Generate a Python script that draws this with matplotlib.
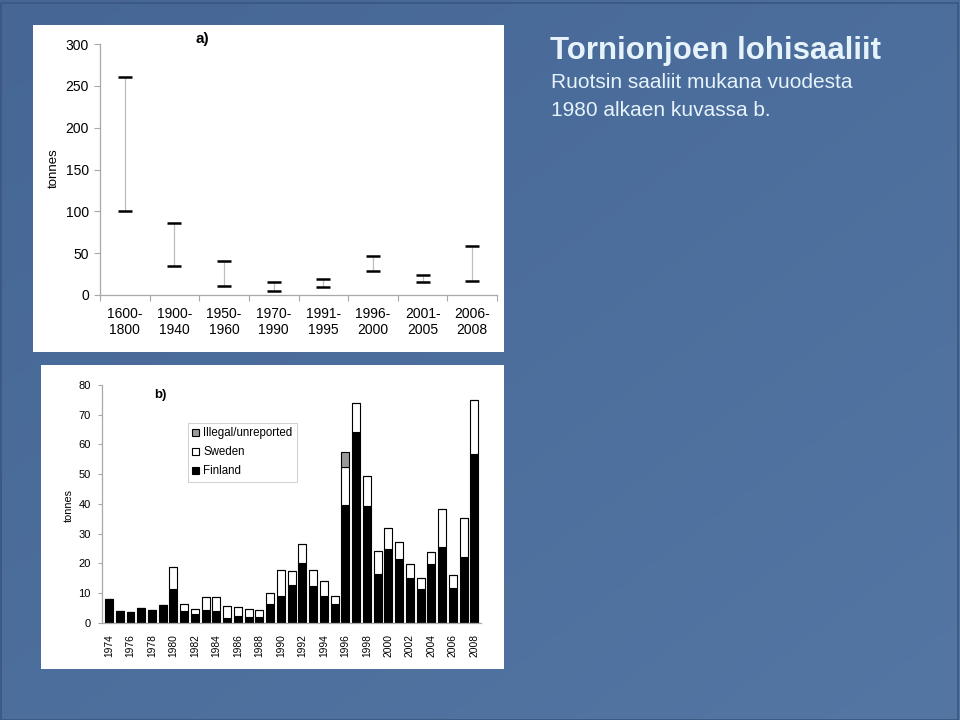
import numpy as np
import matplotlib
matplotlib.use("Agg")
import matplotlib.pyplot as plt
from matplotlib.patches import Rectangle

plt.rcParams['font.family'] = ['Liberation Sans', 'DejaVu Sans']

# ---- data: panel a (range of catches per period) ----
periods = ["1600-\n1800", "1900-\n1940", "1950-\n1960", "1970-\n1990",
           "1991-\n1995", "1996-\n2000", "2001-\n2005", "2006-\n2008"]
low_a = [100, 35, 11, 5, 10, 29, 16, 17]
high_a = [261, 86, 41, 16, 19, 47, 24, 59]

# ---- data: panel b (annual catches, tonnes) ----
years = list(range(1974, 2009))
finland = [8.1, 3.8, 3.5, 5.0, 4.2, 5.9, 11.4, 3.8, 2.9, 4.4, 3.8, 1.7, 2.2, 1.9, 1.9,
           6.2, 9.0, 12.7, 20.2, 12.3, 9.0, 6.3, 39.7, 64.1, 39.2, 16.5, 24.7, 21.3,
           15.2, 11.4, 19.8, 25.6, 11.8, 22.2, 56.9]
sweden = [0, 0, 0, 0, 0, 0, 7.3, 2.4, 1.8, 4.2, 4.8, 3.8, 3.1, 2.6, 2.3,
          3.7, 8.6, 4.6, 6.3, 5.5, 5.1, 2.7, 12.8, 10.0, 10.3, 7.5, 7.3, 5.7,
          4.4, 3.6, 3.9, 12.6, 4.2, 12.9, 18.1]
illegal = [0] * 22 + [5.1] + [0] * 12

W, H = 960, 720
fig = plt.figure(figsize=(W / 100, H / 100), dpi=100)

# background gradient
bg = fig.add_axes([0, 0, 1, 1], zorder=-3)
gx = np.linspace(0, 1, 200)
gy = np.linspace(0, 1, 200)
GX, GY = np.meshgrid(gx, gy)
t = 0.5 * GX + 0.5 * GY
c0 = np.array([0x46, 0x67, 0x96]) / 255
c1 = np.array([0x53, 0x76, 0xa3]) / 255
img = c0[None, None, :] * (1 - t[..., None]) + c1[None, None, :] * t[..., None]
bg.imshow(img, aspect='auto', extent=[0, 1, 0, 1], origin='upper')
bg.set_xlim(0, 1); bg.set_ylim(0, 1)
bg.axis('off')
fig.add_artist(Rectangle((0.5 / W, 0.5 / H), 1 - 3 / W, 1 - 3 / H, transform=fig.transFigure,
                         fill=False, edgecolor='#3a5680', lw=1.2, zorder=-2))


def fx(px):
    return px / W


def fy(py):
    return 1 - py / H


# white panels
fig.add_artist(Rectangle((fx(33), fy(352)), (504 - 33) / W, (352 - 25) / H,
                         transform=fig.transFigure, facecolor='white', edgecolor='none', zorder=-1))
fig.add_artist(Rectangle((fx(41), fy(669)), (504 - 41) / W, (669 - 365) / H,
                         transform=fig.transFigure, facecolor='white', edgecolor='none', zorder=-1))

axis_col = '#a8a8a8'

# ---- panel a ----
axa = fig.add_axes([fx(100), fy(295), (497 - 100) / W, (295 - 44) / H])
axa.set_facecolor('none')
xa = np.arange(len(periods))
axa.vlines(xa, low_a, high_a, color='#bdbdbd', lw=0.9)
axa.plot(xa, low_a, ls='none', marker='_', ms=9.5, mew=1.8, color='black')
axa.plot(xa, high_a, ls='none', marker='_', ms=9.5, mew=1.8, color='black')
axa.set_xlim(-0.5, len(periods) - 0.5)
axa.set_ylim(0, 300)
axa.set_yticks(range(0, 301, 50))
axa.set_xticks(np.arange(-0.5, len(periods), 1.0), minor=False)
axa.set_xticklabels([])
axa.set_xticks(xa, minor=True)
axa.set_xticklabels(periods, minor=True, fontsize=10, linespacing=1.15)
axa.tick_params(axis='x', which='minor', length=0, pad=9)
axa.tick_params(axis='x', which='major', length=4, color=axis_col, direction='out')
axa.tick_params(axis='y', length=4, color=axis_col, labelsize=10, pad=4)
for s in ['top', 'right']:
    axa.spines[s].set_visible(False)
for s in ['left', 'bottom']:
    axa.spines[s].set_color(axis_col)
    axa.spines[s].set_linewidth(0.9)
fig.text(fx(54), fy(168), 'tonnes', rotation=90, ha='center', va='center', fontsize=9.5)
fig.text(fx(202), fy(39), 'a)', ha='center', va='center', fontsize=11, fontweight='bold')

# ---- panel b ----
axb = fig.add_axes([fx(101.7), fy(622.7), (480.5 - 101.7) / W, (622.7 - 385) / H])
axb.set_facecolor('none')
xb = np.arange(len(years))
fin = np.array(finland)
swe = np.array(sweden)
ill = np.array(illegal)
bw = 0.74
axb.bar(xb, fin, width=bw, color='black', edgecolor='black', lw=0.8, label='Finland')
axb.bar(xb, swe, width=bw, bottom=fin, color='white', edgecolor='black', lw=0.8, label='Sweden')
axb.bar(xb, ill, width=bw, bottom=fin + swe, color='#9a9a9a', edgecolor='black', lw=0.8,
        label='Illegal/unreported')
axb.set_xlim(-0.68, len(years) - 1 + 0.58)
axb.set_ylim(0, 80)
axb.set_yticks(range(0, 81, 10))
axb.set_xticks(xb[::2])
axb.set_xticklabels([str(y) for y in years[::2]], rotation=90, fontsize=7.4)
axb.tick_params(axis='x', length=0, pad=8)
axb.tick_params(axis='y', length=3, color=axis_col, labelsize=8, pad=5)
for s in ['top', 'right']:
    axb.spines[s].set_visible(False)
for s in ['left', 'bottom']:
    axb.spines[s].set_color(axis_col)
    axb.spines[s].set_linewidth(0.9)
h, l = axb.get_legend_handles_labels()
leg = axb.legend(h[::-1], l[::-1], loc='upper left', bbox_to_anchor=(0.227, 0.841),
                 borderaxespad=0, fontsize=8.3, frameon=True, fancybox=False,
                 handlelength=0.6, handleheight=0.6, handletextpad=0.35,
                 labelspacing=0.6, borderpad=0.4)
leg.get_frame().set_edgecolor('#c8c8c8')
leg.get_frame().set_linewidth(0.8)
fig.text(fx(69), fy(505), 'tonnes', rotation=90, ha='center', va='center', fontsize=7.8)
fig.text(fx(160), fy(395), 'b)', ha='center', va='center', fontsize=9.5, fontweight='bold')

# ---- slide text ----
tc = '#e6f3fb'
fig.text(fx(550), fy(59), 'Tornionjoen lohisaaliit', fontsize=22.5, fontweight='bold',
         color=tc, ha='left', va='baseline')
fig.text(fx(551), fy(88), 'Ruotsin saaliit mukana vuodesta', fontsize=15, color=tc,
         ha='left', va='baseline')
fig.text(fx(551), fy(116), '1980 alkaen kuvassa b.', fontsize=15, color=tc,
         ha='left', va='baseline')

fig.savefig('out.png', dpi=100)
